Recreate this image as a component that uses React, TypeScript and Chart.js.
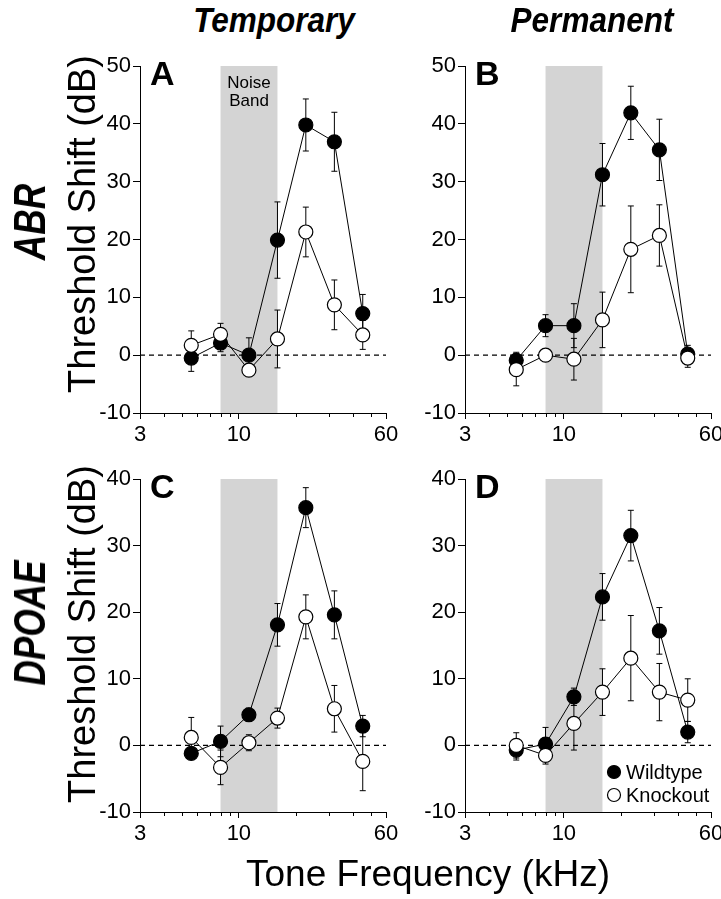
import React, { useEffect, useRef } from "react";
import { Chart, registerables } from "chart.js";

Chart.register(...registerables);

const FONT = '"Liberation Sans", Arial, Helvetica, sans-serif';

// Tone frequencies (kHz), half-octave steps
const FREQ = [5.6, 8, 11.3, 16, 22.6, 32, 45.2];
const X_TICKS = [3, 10, 60];
const X_MINOR = [4, 5, 6, 7, 8, 9, 20, 30, 40, 50];
const NOISE_BAND = [8, 16];
const SERIES = ["Wildtype", "Knockout"];

// Panel A: ABR, temporary
const A_WT = [-0.5, 2.1, 0, 19.9, 39.8, 36.9, 7.2];
const A_WT_SE = [2.3, 1.5, 3.0, 6.6, 4.5, 5.1, 3.3];
const A_KO = [1.7, 3.6, -2.6, 2.8, 21.3, 8.7, 3.5];
const A_KO_SE = [2.5, 1.9, 1.0, 5.0, 4.3, 4.3, 2.5];

// Panel B: ABR, permanent
const B_WT = [-0.9, 5.1, 5.1, 31.2, 41.9, 35.5, 0.2];
const B_WT_SE = [1.4, 1.9, 3.8, 5.4, 4.6, 5.3, 1.5];
const B_KO = [-2.5, 0, -0.7, 6.1, 18.3, 20.7, -0.5];
const B_KO_SE = [2.8, 0.5, 3.6, 4.8, 7.5, 5.3, 1.6];

// Panel C: DPOAE, temporary
const C_WT = [-1.2, 0.6, 4.6, 18.1, 35.7, 19.6, 2.9];
const C_WT_SE = [0.8, 2.3, 1.0, 3.2, 3.0, 3.6, 1.6];
const C_KO = [1.2, -3.3, 0.4, 4.1, 19.3, 5.5, -2.4];
const C_KO_SE = [3.0, 2.6, 1.2, 1.5, 3.3, 3.5, 4.4];

// Panel D: DPOAE, permanent
const D_WT = [-0.7, 0.2, 7.3, 22.3, 31.5, 17.2, 2.0];
const D_WT_SE = [1.5, 2.5, 1.3, 3.5, 3.8, 3.5, 1.6];
const D_KO = [0, -1.5, 3.3, 8.0, 13.1, 8.0, 6.8];
const D_KO_SE = [1.9, 1.3, 4.0, 3.5, 6.4, 4.3, 3.2];

type PanelCfg = {
  letter: string;
  wt: number[];
  wtSe: number[];
  ko: number[];
  koSe: number[];
  yMax: number;
  noiseLabel: boolean;
  legend: boolean;
  left: number;
  top: number;
  width: number;
  height: number;
  pad: { top: number; right: number; bottom: number; left: number };
};

const panelPlugin = {
  id: "panelExtras",
  beforeDatasetsDraw(chart: any) {
    const { ctx, chartArea: ca } = chart;
    const x = chart.scales.x;
    const y = chart.scales.y;
    ctx.save();
    const bx0 = x.getPixelForValue(NOISE_BAND[0]);
    const bx1 = x.getPixelForValue(NOISE_BAND[1]);
    ctx.fillStyle = "#d4d4d4";
    ctx.fillRect(bx0, ca.top, bx1 - bx0, ca.bottom - ca.top);

    const y0 = y.getPixelForValue(0);
    ctx.strokeStyle = "#000";
    ctx.lineWidth = 1.3;
    ctx.setLineDash([5, 4]);
    ctx.beginPath();
    ctx.moveTo(ca.left, y0);
    ctx.lineTo(ca.right, y0);
    ctx.stroke();
    ctx.setLineDash([]);

    ctx.lineWidth = 1;
    chart.data.datasets.forEach((ds: any) => {
      const errs: number[] = ds.errors;
      ds.data.forEach((p: any, i: number) => {
        const px = x.getPixelForValue(p.x);
        const yt = y.getPixelForValue(p.y + errs[i]);
        const yb = y.getPixelForValue(p.y - errs[i]);
        ctx.beginPath();
        ctx.moveTo(px, yt);
        ctx.lineTo(px, yb);
        ctx.moveTo(px - 3, yt);
        ctx.lineTo(px + 3, yt);
        ctx.moveTo(px - 3, yb);
        ctx.lineTo(px + 3, yb);
        ctx.stroke();
      });
    });
    ctx.restore();
  },
  afterDraw(chart: any, _args: any, opts: any) {
    const { ctx, chartArea: ca } = chart;
    const x = chart.scales.x;
    ctx.save();
    ctx.strokeStyle = "#000";
    ctx.lineWidth = 1;
    X_MINOR.forEach((v) => {
      const px = Math.round(x.getPixelForValue(v)) + 0.5;
      ctx.beginPath();
      ctx.moveTo(px, ca.bottom);
      ctx.lineTo(px, ca.bottom + 4);
      ctx.stroke();
    });

    ctx.fillStyle = "#000";
    ctx.textAlign = "left";
    ctx.textBaseline = "alphabetic";
    ctx.font = `bold 34px ${FONT}`;
    ctx.fillText(opts.letter, ca.left + 10, ca.top + 19);

    if (opts.noiseLabel) {
      const cx = (x.getPixelForValue(NOISE_BAND[0]) + x.getPixelForValue(NOISE_BAND[1])) / 2;
      ctx.font = `17px ${FONT}`;
      ctx.textAlign = "center";
      ctx.textBaseline = "middle";
      ctx.fillText("Noise", cx, ca.top + 17);
      ctx.fillText("Band", cx, ca.top + 35);
    }

    if (opts.legend) {
      const lx = ca.right - 97;
      const rows = [
        { label: SERIES[0], fill: "#000", y: ca.bottom - 40 },
        { label: SERIES[1], fill: "#fff", y: ca.bottom - 17 },
      ];
      ctx.font = `20px ${FONT}`;
      ctx.textAlign = "left";
      ctx.textBaseline = "middle";
      rows.forEach((r) => {
        ctx.beginPath();
        ctx.arc(lx, r.y, 6.5, 0, Math.PI * 2);
        ctx.fillStyle = r.fill;
        ctx.fill();
        ctx.lineWidth = 1.2;
        ctx.strokeStyle = "#000";
        ctx.stroke();
        ctx.fillStyle = "#000";
        ctx.fillText(r.label, lx + 12, r.y + 1);
      });
    }
    ctx.restore();
  },
};

function Panel({ cfg }: { cfg: PanelCfg }) {
  const ref = useRef<HTMLCanvasElement | null>(null);
  useEffect(() => {
    if (!ref.current) return;
    const toPts = (vals: number[]) => vals.map((v, i) => ({ x: FREQ[i], y: v }));
    const tickFont = { family: FONT, size: 22 };
    const chart = new Chart(ref.current, {
      type: "line",
      data: {
        datasets: [
          {
            label: SERIES[0],
            data: toPts(cfg.wt),
            errors: cfg.wtSe,
            order: 1,
            borderColor: "#000",
            borderWidth: 1,
            backgroundColor: "#000",
            pointBackgroundColor: "#000",
            pointBorderColor: "#000",
            pointBorderWidth: 1.2,
            pointRadius: 7,
            tension: 0,
          } as any,
          {
            label: SERIES[1],
            data: toPts(cfg.ko),
            errors: cfg.koSe,
            order: 0,
            borderColor: "#000",
            borderWidth: 1,
            backgroundColor: "#fff",
            pointBackgroundColor: "#fff",
            pointBorderColor: "#000",
            pointBorderWidth: 1.2,
            pointRadius: 7,
            tension: 0,
          } as any,
        ],
      },
      options: {
        responsive: false,
        animation: false,
        devicePixelRatio: 1,
        layout: { padding: cfg.pad },
        plugins: {
          legend: { display: false },
          tooltip: { enabled: false },
          title: { display: false },
          panelExtras: { letter: cfg.letter, noiseLabel: cfg.noiseLabel, legend: cfg.legend },
        } as any,
        scales: {
          x: {
            type: "logarithmic",
            min: 3,
            max: 60,
            afterBuildTicks: (s: any) => {
              s.ticks = X_TICKS.map((v) => ({ value: v }));
            },
            afterFit: (s: any) => {
              s.height = 45;
              s.paddingLeft = 0;
              s.paddingRight = 0;
            },
            ticks: {
              callback: (v: any) => String(v),
              font: tickFont,
              color: "#000",
              padding: 3,
              maxRotation: 0,
              autoSkip: false,
            },
            grid: { display: true, drawOnChartArea: false, drawTicks: true, tickLength: 6, color: "#000", lineWidth: 1 },
            border: { display: true, color: "#000", width: 1 },
          },
          y: {
            type: "linear",
            min: -10,
            max: cfg.yMax,
            afterFit: (s: any) => {
              s.width = 100;
              s.paddingTop = 0;
              s.paddingBottom = 0;
            },
            ticks: { stepSize: 10, font: tickFont, color: "#000", padding: 2 },
            grid: { display: true, drawOnChartArea: false, drawTicks: true, tickLength: 7, color: "#000", lineWidth: 1 },
            border: { display: true, color: "#000", width: 1 },
          },
        },
      } as any,
      plugins: [panelPlugin],
    });
    return () => chart.destroy();
  }, [cfg]);
  return (
    <canvas
      ref={ref}
      width={cfg.width}
      height={cfg.height}
      style={{ position: "absolute", left: cfg.left, top: cfg.top, width: cfg.width, height: cfg.height }}
    />
  );
}

const PANELS: PanelCfg[] = [
  {
    letter: "A", wt: A_WT, wtSe: A_WT_SE, ko: A_KO, koSe: A_KO_SE, yMax: 50, noiseLabel: true, legend: false,
    left: 40, top: 40, width: 358, height: 430, pad: { top: 26, right: 12, bottom: 12, left: 0 },
  },
  {
    letter: "B", wt: B_WT, wtSe: B_WT_SE, ko: B_KO, koSe: B_KO_SE, yMax: 50, noiseLabel: false, legend: false,
    left: 365, top: 40, width: 356, height: 430, pad: { top: 26, right: 10, bottom: 12, left: 0 },
  },
  {
    letter: "C", wt: C_WT, wtSe: C_WT_SE, ko: C_KO, koSe: C_KO_SE, yMax: 40, noiseLabel: false, legend: false,
    left: 40, top: 455, width: 358, height: 435, pad: { top: 24, right: 12, bottom: 33, left: 0 },
  },
  {
    letter: "D", wt: D_WT, wtSe: D_WT_SE, ko: D_KO, koSe: D_KO_SE, yMax: 40, noiseLabel: false, legend: true,
    left: 365, top: 455, width: 356, height: 435, pad: { top: 24, right: 10, bottom: 33, left: 0 },
  },
];

function Label(props: {
  text: string; cx: number; cy: number; size: number; bold?: boolean; italic?: boolean; rotate?: boolean; sx?: number;
}) {
  const { text, cx, cy, size, bold, italic, rotate, sx } = props;
  return (
    <div
      style={{
        position: "absolute",
        left: cx,
        top: cy,
        transform: `translate(-50%, -50%)${rotate ? " rotate(-90deg)" : ""}${sx ? ` scaleX(${sx})` : ""}`,
        fontFamily: FONT,
        fontSize: size,
        fontWeight: bold ? 700 : 400,
        fontStyle: italic ? "italic" : "normal",
        lineHeight: 1,
        whiteSpace: "nowrap",
        color: "#000",
      }}
    >
      {text}
    </div>
  );
}

export default function App() {
  return (
    <div style={{ position: "absolute", left: 0, top: 0, width: 721, height: 899, overflow: "hidden", background: "#fff" }}>
      {PANELS.map((p) => (
        <Panel key={p.letter} cfg={p} />
      ))}
      <Label text="Temporary" cx={274} cy={19} size={35} bold italic sx={0.9} />
      <Label text="Permanent" cx={592} cy={19} size={35} bold italic sx={0.9} />
      <Label text="ABR" cx={30} cy={222} size={44} bold italic rotate sx={0.8} />
      <Label text="DPOAE" cx={30} cy={623} size={44} bold italic rotate sx={0.8} />
      <Label text="Threshold Shift (dB)" cx={82} cy={224} size={38} rotate />
      <Label text="Threshold Shift (dB)" cx={82} cy={634} size={38} rotate />
      <Label text="Tone Frequency (kHz)" cx={428} cy={873} size={37} />
    </div>
  );
}
